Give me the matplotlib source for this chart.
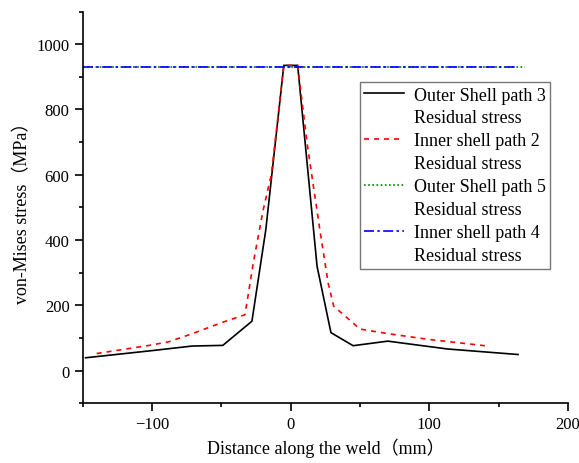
import matplotlib
matplotlib.use("Agg")
import matplotlib.pyplot as plt
from matplotlib.ticker import MultipleLocator
from matplotlib.lines import Line2D

plt.rcParams['font.family'] = ['Liberation Serif', 'Noto Sans CJK SC']
plt.rcParams['mathtext.fontset'] = 'stix'

outer3_x = [-148, -100, -71, -49, -28, -18, -5, 5, 19, 29, 45, 70, 113, 164]
outer3_y = [39, 61, 75, 77, 151, 431, 935, 935, 319, 116, 76, 90, 66, 49]

inner2_x = [-140, -102, -88, -71, -49, -33, -27, -20, -14, -5, 5, 12, 21, 27, 31, 50, 70, 100, 140]
inner2_y = [52, 77, 88, 113, 148, 171, 330, 490, 600, 935, 935, 690, 431, 268, 197, 127, 113, 95, 76]

outer5_x = [-150, 169]
outer5_y = [930, 930]

inner4_x = [-150, 163]
inner4_y = [930, 930]

names = ["Outer Shell path 3", "Inner shell path 2",
         "Outer Shell path 5", "Inner shell path 4"]
subtitle = "Residual stress"

fig = plt.figure(figsize=(5.79, 4.64), dpi=100)
ax = fig.add_axes([0.143, 0.129, 0.838, 0.844])

l1, = ax.plot(outer3_x, outer3_y, color='black', lw=1.2)
l2, = ax.plot(inner2_x, inner2_y, color='red', lw=1.2, ls=(0, (3, 3)))
l3, = ax.plot(outer5_x, outer5_y, color='green', lw=1.2, ls=(0, (1, 1.5)))
l4, = ax.plot(inner4_x, inner4_y, color='blue', lw=1.2, ls=(0, (6, 2, 1.5, 2)))

ax.set_xlim(-150, 200)
ax.set_ylim(-100, 1100)
ax.xaxis.set_major_locator(MultipleLocator(100))
ax.xaxis.set_minor_locator(MultipleLocator(50))
ax.yaxis.set_major_locator(MultipleLocator(200))
ax.yaxis.set_minor_locator(MultipleLocator(100))
ax.spines['top'].set_visible(False)
ax.spines['right'].set_visible(False)
for s in ['left', 'bottom']:
    ax.spines[s].set_linewidth(1.2)
ax.tick_params(which='major', length=6, width=1.2, labelsize=12)
ax.tick_params(which='minor', length=3, width=1.2)

ax.set_xlabel("Distance along the weld（mm）", fontsize=13)
ax.set_ylabel("von-Mises stress（MPa）", fontsize=13)

blank = Line2D([], [], color='none')
handles, labs = [], []
for h, n in zip([l1, l2, l3, l4], names):
    handles += [h, blank]
    labs += [n, subtitle]

leg = ax.legend(handles, labs, loc='upper left', bbox_to_anchor=(0.571, 0.82),
                fontsize=13, frameon=True, fancybox=False, edgecolor='#555555',
                handlelength=2.2, labelspacing=0.33, borderpad=0.25,
                handletextpad=0.55, borderaxespad=0)
leg.get_frame().set_linewidth(1.0)

fig.savefig("out.png", dpi=100)
